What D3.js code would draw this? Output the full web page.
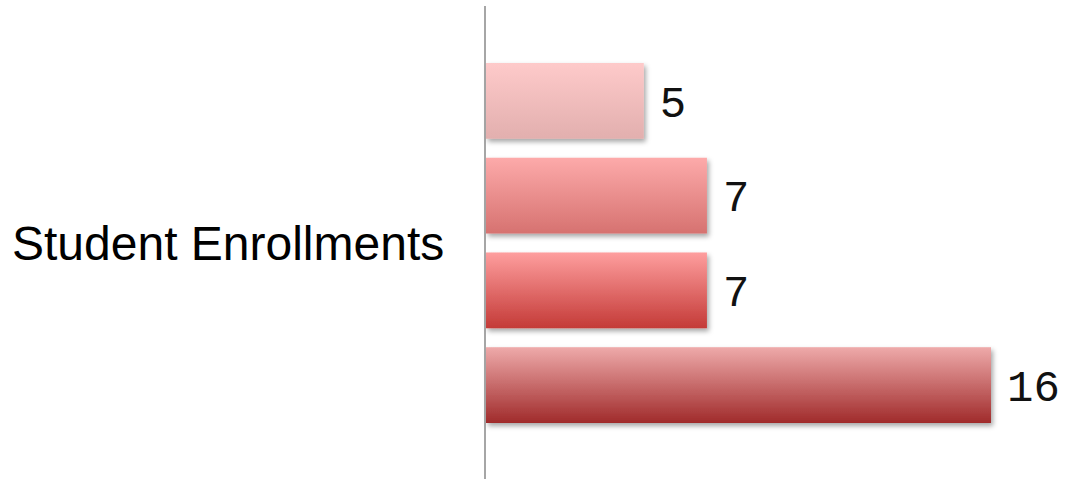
<!DOCTYPE html>
<html>
<head>
<meta charset="utf-8">
<script src="https://cdn.jsdelivr.net/npm/d3@7"></script>
<style>
html,body{margin:0;padding:0;background:#fff;}
svg{display:block;}
</style>
</head>
<body>
<script>
const category = "Student Enrollments";
const seriesNames = ["S1", "S2", "S3", "S4"];
const values = [5, 7, 7, 16];
const topColors = ["#fecaca", "#fdaaaa", "#fe9e9e", "#eeaaaa"];
const bottomColors = ["#e2afae", "#d67270", "#c43a37", "#a02b2b"];

const W = 1068, H = 479;
const svg = d3.select("body").append("svg").attr("width", W).attr("height", H);
const defs = svg.append("defs");

const f = defs.append("filter").attr("id", "shadow")
  .attr("x", "-5%").attr("y", "-20%").attr("width", "115%").attr("height", "150%");
f.append("feDropShadow").attr("dx", 2).attr("dy", 3).attr("stdDeviation", 2.5)
  .attr("flood-color", "#000").attr("flood-opacity", 0.35);

seriesNames.forEach((s, i) => {
  const g = defs.append("linearGradient").attr("id", "grad" + i)
    .attr("x1", 0).attr("y1", 0).attr("x2", 0).attr("y2", 1);
  g.append("stop").attr("offset", "0%").attr("stop-color", topColors[i]);
  g.append("stop").attr("offset", "100%").attr("stop-color", bottomColors[i]);
});

const x = d3.scaleLinear().domain([0, 16]).range([486, 991]);
const y = d3.scaleBand().domain(seriesNames).range([63, 423]).paddingInner(0.2).paddingOuter(0);

svg.selectAll("rect.bar").data(values).join("rect")
  .attr("class", "bar")
  .attr("x", x(0))
  .attr("y", (d, i) => y(seriesNames[i]))
  .attr("width", d => x(d) - x(0))
  .attr("height", y.bandwidth())
  .attr("fill", (d, i) => `url(#grad${i})`)
  .attr("filter", "url(#shadow)");

svg.selectAll("text.val").data(values).join("text")
  .attr("class", "val")
  .attr("x", d => x(d) + 16)
  .attr("y", (d, i) => y(seriesNames[i]) + y.bandwidth() / 2)
  .attr("dy", "0.36em")
  .style("font-family", "'Liberation Mono', 'DejaVu Sans Mono', monospace")
  .attr("font-size", 44)
  .attr("fill", "#111")
  .text(d => d);

// category axis line
svg.append("line")
  .attr("x1", 485).attr("x2", 485).attr("y1", 6).attr("y2", H)
  .attr("stroke", "#888").attr("stroke-width", 1.5);

svg.append("text")
  .attr("x", 12)
  .attr("y", (y.range()[0] + y.range()[1]) / 2)
  .attr("dy", "0.36em")
  .style("font-family", "'Liberation Sans', Arial, sans-serif")
  .attr("font-size", 48)
  .attr("fill", "#000")
  .text(category);
</script>
</body>
</html>
